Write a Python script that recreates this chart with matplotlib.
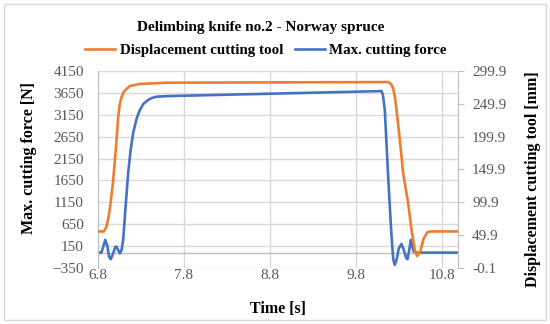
import matplotlib.pyplot as plt
from matplotlib.patches import Rectangle

# blue series: max. cutting force [N] (left axis)
force_t = [6.80, 6.84, 6.86, 6.885, 6.91, 6.93, 6.95, 6.975, 7.00, 7.015, 7.035,
           7.056, 7.075, 7.094, 7.12, 7.152, 7.18, 7.21, 7.25, 7.288, 7.33, 7.385,
           7.43, 7.483, 7.6, 10.099, 10.115, 10.137, 10.176, 10.215, 10.235, 10.253,
           10.275, 10.30, 10.331, 10.36, 10.385, 10.401, 10.42, 10.44, 10.455, 10.474,
           10.50, 10.99]
force_v = [0, 0, 120, 290, 150, -90, -151, -30, 120, 140, 60,
           -20, 60, 290, 1000, 1820, 2330, 2734, 3060, 3259, 3400, 3488,
           3535, 3563, 3575, 3690, 3600, 3259, 1736, 372, -150, -281,
           -150, 100, 198, 50, -120, -151, 50, 290, 150, 23,
           0, 0]

# orange series: displacement cutting tool [mm] (right axis)
disp_t = [6.80, 6.87, 6.90, 6.925, 6.948, 6.975, 6.998, 7.02, 7.036, 7.055, 7.076,
          7.10, 7.172, 7.288, 7.6, 10.176, 10.21, 10.234, 10.255, 10.273, 10.312,
          10.35, 10.408, 10.448, 10.486, 10.513, 10.55, 10.59, 10.63, 10.67, 10.99]
disp_v = [55.5, 55.5, 62.8, 78, 98.9, 130, 164.3, 200, 229.8, 250, 260.3,
          268, 277.1, 280.1, 282, 283, 280, 273.6, 260, 240.5, 194.8,
          144.6, 98.9, 57.7, 27.3, 18, 25, 45, 54, 55.5, 55.5]

x_ticks = [6.8, 7.8, 8.8, 9.8, 10.8]
left_ticks = list(range(-350, 4151, 500))
right_ticks = [-0.1, 49.9, 99.9, 149.9, 199.9, 249.9, 299.9]

orange = '#ED7D31'
blue = '#4472C4'
grid = '#D9D9D9'
tick_col = '#595959'
serif = 'Liberation Serif'

fig = plt.figure(figsize=(5.5, 3.24), dpi=100)
fig.patches.append(Rectangle((4 / 550, 4 / 324), 542 / 550, 316 / 324,
                             transform=fig.transFigure, fill=False,
                             edgecolor=grid, lw=1))

ax = fig.add_axes([0.178, 0.173, 0.655, 0.608])
ax.set_xlim(6.8, 10.99)
ax.set_ylim(-350, 4150)
ax.set_xticks(x_ticks)
ax.set_xticklabels(['6.8', '7.8', '8.8', '9.8', '10.8'])
ax.set_yticks(left_ticks)
ax.grid(True, color=grid, lw=1)
ax.axhline(0, color='#BFBFBF', lw=1)
ax.set_axisbelow(True)
for s in ['top', 'right', 'bottom']:
    ax.spines[s].set_visible(False)
ax.spines['left'].set_color('#BFBFBF')
ax.tick_params(axis='y', length=0, pad=10, labelsize=11, labelcolor=tick_col)
ax.tick_params(axis='x', length=0, pad=1, labelsize=11, labelcolor=tick_col)
for lab in ax.get_xticklabels() + ax.get_yticklabels():
    lab.set_fontfamily(serif)

line_f, = ax.plot(force_t, force_v, color=blue, lw=1.9, label='Max. cutting force')

ax2 = ax.twinx()
ax2.set_ylim(-0.1, 299.9)
ax2.set_yticks(right_ticks)
ax2.set_yticklabels(['%.1f' % v for v in right_ticks])
for s in ['top', 'left', 'bottom']:
    ax2.spines[s].set_visible(False)
ax2.spines['right'].set_color('#BFBFBF')
ax2.tick_params(axis='y', length=4, color='#BFBFBF', pad=6, labelsize=11,
                labelcolor=tick_col)
for lab in ax2.get_yticklabels():
    lab.set_fontfamily(serif)

line_d, = ax2.plot(disp_t, disp_v, color=orange, lw=1.9, label='Displacement cutting tool')

lab_font = dict(family=serif, weight='bold', size=11.5)
ax.set_ylabel('Max. cutting force [N]', **lab_font)
ax.yaxis.set_label_coords(-0.169, 0.56)
ax2.set_ylabel('Displacement cutting tool [mm]', **lab_font)
ax2.yaxis.set_label_coords(1.186, 0.45)
ax.set_xlabel('Time [s]', **lab_font)
ax.xaxis.set_label_coords(0.5, -0.168)

fig.text(261 / 550, 1 - 27 / 324, 'Delimbing knife no.2 - Norway spruce',
         ha='center', va='center', family=serif, weight='bold', size=11)
fig.legend(handles=[line_d, line_f], loc='center', ncol=2,
           bbox_to_anchor=(266 / 550, 1 - 50 / 324), frameon=False,
           prop=dict(family=serif, weight='bold', size=10.8),
           handlelength=2.0, handletextpad=0.3, columnspacing=0.8)

fig.savefig('out.png', dpi=100)
